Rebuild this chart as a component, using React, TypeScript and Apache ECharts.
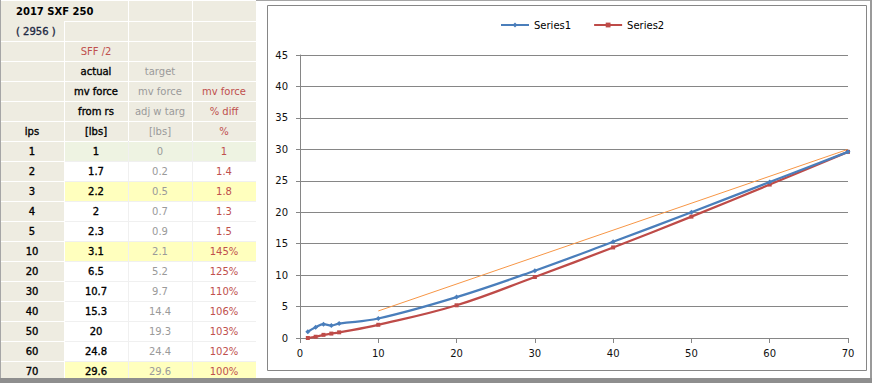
import React, { useEffect, useRef } from "react";
import * as echarts from "echarts";

// ---- data ----
const ips = [1, 2, 3, 4, 5, 10, 20, 30, 40, 50, 60, 70];
const actualForce = [1, 1.7, 2.2, 2, 2.3, 3.1, 6.5, 10.7, 15.3, 20, 24.8, 29.6];
const targetForce = [0, 0.2, 0.5, 0.7, 0.9, 2.1, 5.2, 9.7, 14.4, 19.3, 24.4, 29.6];
const diffLabels = ["1", "1.4", "1.8", "1.3", "1.5", "145%", "125%", "110%", "106%", "103%", "102%", "100%"];
const highlightRows = [2, 5, 11];
const guideX = [10, 70];
const guideY = [4.3, 30];
const title = "2017 SXF 250";
const subTitle = "( 2956 )";
// header rows 2..6, columns 1..3 (column 0 only for row 6)
const headerCol1 = ["SFF /2", "actual", "mv force", "from rs", "[lbs]"];
const headerCol2 = ["", "target", "mv force", "adj w targ", "[lbs]"];
const headerCol3 = ["", "", "mv force", "% diff", "%"];
const yTicks = { min: 0, max: 45, interval: 5 };
const xTicks = { min: 0, max: 70, interval: 10 };

const BLACK = "#000000";
const GRAY = "#9a9a9a";
const RED = "#c0504d";
const BEIGE = "#eeece1";
const GREEN = "#eef3e2";
const YELLOW = "#ffffbe";
const FONT = '"DejaVu Sans"';

function txt(text: string, x: number, y: number, fill: string, bold: boolean, align = "center", heavy = false) {
  const style: any = {
    text,
    fill,
    font: `${bold ? "bold " : ""}10px ${FONT}`,
    align,
    textAlign: align,
    verticalAlign: "middle",
    textVerticalAlign: "middle",
  };
  if (heavy) {
    style.stroke = fill;
    style.lineWidth = 0.35;
  }
  return { type: "text", x, y, silent: true, z: 10, style };
}

function box(x: number, y: number, w: number, h: number, fill: string, z = 1) {
  return { type: "rect", silent: true, z, shape: { x, y, width: w, height: h }, style: { fill } };
}

function buildGraphic() {
  const g: any[] = [];
  const colC = [32, 96, 160, 224];
  const rowC = (k: number) => 11 + 20 * k;
  // fills
  g.push(box(1, 1, 255, 140, BEIGE));
  g.push(box(1, 141, 63, 240, BEIGE));
  ips.forEach((_, i) => {
    const fill = i === 0 ? GREEN : highlightRows.includes(i) ? YELLOW : "#ffffff";
    g.push(box(64, 141 + 20 * i, 192, 20, fill));
  });
  // horizontal separators
  for (let k = 1; k <= 18; k++) {
    const y = 1 + 20 * k;
    if (k === 1) {
      g.push(box(64, y, 192, 1, "#ffffff", 2));
    } else if (k <= 7) {
      g.push(box(1, y, 255, 1, "#ffffff", 2));
    } else {
      g.push(box(1, y, 63, 1, "#ffffff", 2));
      g.push(box(64, y, 192, 1, "#f0f0f0", 2));
    }
  }
  // vertical separators
  [64, 128, 192].forEach((x) => {
    g.push(box(x, x === 64 ? 21 : 1, 1, x === 64 ? 120 : 140, "#ffffff", 2));
    g.push(box(x, 141, 1, 240, x === 64 ? "#ffffff" : "#f0f0f0", 2));
  });
  // texts
  g.push(txt(title, 16, 11, BLACK, true, "left"));
  g.push(txt(subTitle, 16, 31, "#1f2a44", false, "left", true));
  headerCol1.forEach((t, i) => {
    if (t) g.push(txt(t, colC[1], rowC(i + 2), i === 0 ? RED : BLACK, false, "center", i !== 0));
  });
  headerCol2.forEach((t, i) => {
    if (t) g.push(txt(t, colC[2], rowC(i + 2), GRAY, false));
  });
  headerCol3.forEach((t, i) => {
    if (t) g.push(txt(t, colC[3], rowC(i + 2), RED, false));
  });
  g.push(txt("ips", colC[0], rowC(6), BLACK, false, "center", true));
  ips.forEach((v, i) => {
    const k = 7 + i;
    g.push(txt(String(v), colC[0], rowC(k), BLACK, false, "center", true));
    g.push(txt(String(actualForce[i]), colC[1], rowC(k), BLACK, false, "center", true));
    g.push(txt(String(targetForce[i]), colC[2], rowC(k), GRAY, false));
    g.push(txt(diffLabels[i], colC[3], rowC(k), RED, false));
  });
  // window frame
  g.push(box(0, 0, 1, 383, "#a6a6a6", 20));
  g.push(box(256, 0, 616, 1, "#a6a6a6", 20));
  g.push(box(870, 0, 2, 383, "#9a9a9a", 20));
  g.push(box(0, 378, 872, 5, "#8e8e8e", 20));
  // chart frame
  g.push({
    type: "rect",
    silent: true,
    z: 0,
    shape: { x: 267.5, y: 5.5, width: 599, height: 365 },
    style: { fill: "none", stroke: "#868686", lineWidth: 1 },
  });
  return g;
}

export default function App() {
  const ref = useRef<HTMLDivElement>(null);
  useEffect(() => {
    if (!ref.current) return;
    const chart = echarts.init(ref.current, undefined, { renderer: "svg" });
    const axisColor = "#868686";
    chart.setOption({
      animation: false,
      backgroundColor: "#ffffff",
      textStyle: { fontFamily: FONT },
      legend: {
        data: ["Series1", "Series2"],
        left: 495,
        top: 15,
        itemWidth: 28,
        itemHeight: 6,
        itemGap: 22,
        textStyle: { fontSize: 10, color: "#000", fontFamily: FONT },
      },
      grid: { left: 300, right: 24, top: 55, bottom: 45, containLabel: false },
      xAxis: {
        type: "value",
        min: xTicks.min,
        max: xTicks.max,
        interval: xTicks.interval,
        axisLine: { show: true, lineStyle: { color: axisColor } },
        axisTick: { show: true, length: 5, lineStyle: { color: axisColor } },
        splitLine: { show: false },
        axisLabel: { margin: 10, fontSize: 10, color: "#111", fontFamily: FONT },
      },
      yAxis: {
        type: "value",
        min: yTicks.min,
        max: yTicks.max,
        interval: yTicks.interval,
        axisLine: { show: true, lineStyle: { color: axisColor } },
        axisTick: { show: true, length: 4, lineStyle: { color: axisColor } },
        splitLine: { show: true, lineStyle: { color: axisColor, width: 1 } },
        axisLabel: { margin: 12, fontSize: 10, color: "#111", fontFamily: FONT },
      },
      series: [
        {
          name: "Guide",
          type: "line",
          data: guideX.map((x, i) => [x, guideY[i]]),
          showSymbol: false,
          symbol: "none",
          lineStyle: { color: "#f79646", width: 1 },
          itemStyle: { color: "#f79646" },
          z: 1,
        },
        {
          name: "Series2",
          type: "line",
          smooth: 0.4,
          data: ips.map((x, i) => [x, targetForce[i]]),
          symbol: "rect",
          symbolSize: 4,
          lineStyle: { color: "#be4b48", width: 2.25 },
          itemStyle: { color: "#be4b48" },
          z: 2,
        },
        {
          name: "Series1",
          type: "line",
          smooth: 0.4,
          data: ips.map((x, i) => [x, actualForce[i]]),
          symbol: "diamond",
          symbolSize: 5,
          lineStyle: { color: "#4a7ebb", width: 2.25 },
          itemStyle: { color: "#4a7ebb" },
          z: 3,
        },
      ],
      graphic: { elements: buildGraphic() },
    });
    return () => chart.dispose();
  }, []);
  return (
    <div
      ref={ref}
      style={{ position: "absolute", left: 0, top: 0, width: 872, height: 383 }}
    />
  );
}
